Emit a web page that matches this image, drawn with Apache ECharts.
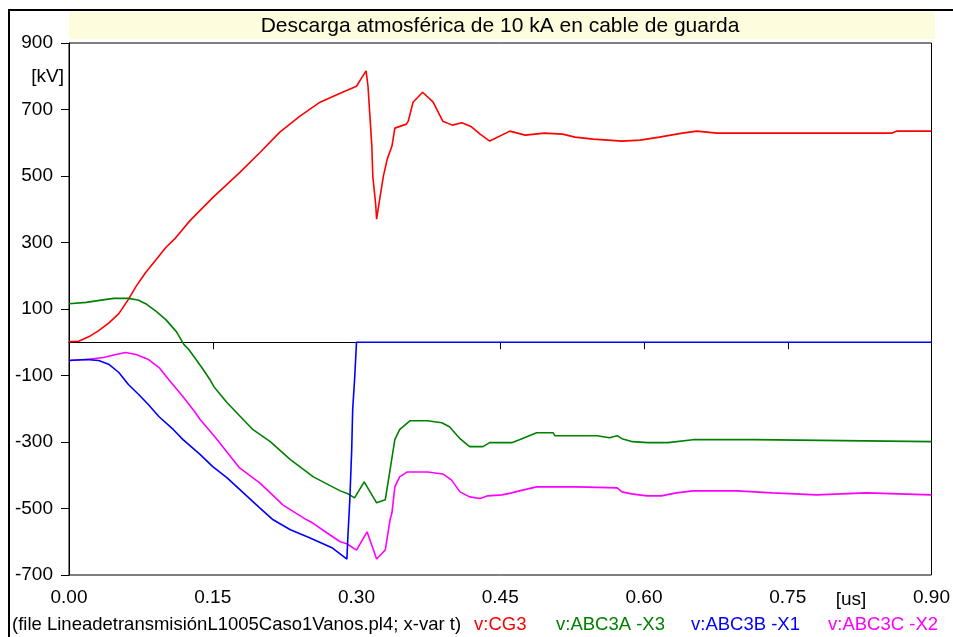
<!DOCTYPE html>
<html>
<head>
<meta charset="utf-8">
<script src="https://cdn.jsdelivr.net/npm/echarts@6/dist/echarts.min.js"></script>
<style>
  html, body { margin: 0; padding: 0; background: #fff; }
  #chart { width: 953px; height: 637px; }
</style>
</head>
<body>
<div id="chart"></div>
<script>
// Time axis ticks [us] and voltage axis ticks [kV]
const xTicks = [0.00, 0.15, 0.30, 0.45, 0.60, 0.75, 0.90];
const yTicks = [-700, -500, -300, -100, 100, 300, 500, 700, 900];

// v:CG3 — ground wire voltage, [t us, kV]
const cg3 = [
  [0,2],[0.010,3],[0.021,17],[0.031,35],[0.042,59],[0.052,86],[0.062,129],[0.070,168],
  [0.080,210],[0.091,249],[0.101,285],[0.110,310],[0.126,365],[0.150,435],[0.178,510],
  [0.199,570],[0.220,632],[0.241,680],[0.262,722],[0.283,749],[0.300,770],[0.306,798],
  [0.310,816],[0.312,770],[0.314,680],[0.316,590],[0.317,499],[0.320,415],[0.321,370],
  [0.323,409],[0.328,499],[0.332,550],[0.337,590],[0.340,644],[0.352,656],[0.354,665],
  [0.359,722],[0.364,737],[0.369,752],[0.380,722],[0.390,665],[0.400,653],[0.410,660],
  [0.420,648],[0.429,626],[0.439,605],[0.460,635],[0.476,623],[0.496,629],[0.515,626],
  [0.528,617],[0.547,611],[0.577,605],[0.596,608],[0.616,617],[0.640,629],[0.655,635],
  [0.676,629],[0.859,629],[0.864,635],[0.900,635]
];

// v:ABC3A -X3
const abc3a = [
  [0,116],[0.018,120],[0.039,129],[0.047,132],[0.062,132],[0.072,127],[0.080,116],
  [0.091,93],[0.101,68],[0.112,32],[0.120,-7],[0.125,-22],[0.140,-82],[0.147,-112],
  [0.151,-133],[0.165,-182],[0.192,-263],[0.210,-299],[0.231,-353],[0.255,-405],
  [0.275,-435],[0.283,-447],[0.291,-456],[0.293,-459],[0.298,-468],[0.308,-420],
  [0.321,-483],[0.330,-474],[0.335,-384],[0.340,-293],[0.345,-263],[0.356,-236],
  [0.374,-236],[0.389,-242],[0.397,-254],[0.408,-290],[0.418,-314],[0.432,-314],
  [0.439,-302],[0.462,-302],[0.470,-293],[0.488,-272],[0.505,-272],[0.507,-281],
  [0.551,-281],[0.564,-287],[0.572,-281],[0.577,-290],[0.588,-299],[0.604,-302],
  [0.625,-302],[0.651,-293],[0.715,-293],[0.717,-299],[0.900,-299]
];

// v:ABC3B -X1
const abc3b = [
  [0,-55],[0.018,-52],[0.031,-55],[0.042,-67],[0.052,-91],[0.062,-127],[0.073,-158],
  [0.083,-188],[0.094,-224],[0.109,-263],[0.119,-293],[0.137,-338],[0.150,-374],
  [0.165,-408],[0.182,-453],[0.199,-498],[0.213,-534],[0.231,-564],[0.251,-588],
  [0.275,-619],[0.290,-652],[0.291,-585],[0.293,-475],[0.295,-323],[0.296,-203],
  [0.298,-112],[0.300,0],[0.900,0]
];

// v:ABC3C -X2
const abc3c = [
  [0,-55],[0.018,-52],[0.036,-46],[0.049,-37],[0.059,-31],[0.070,-37],[0.083,-52],
  [0.094,-76],[0.104,-112],[0.119,-164],[0.132,-212],[0.137,-233],[0.146,-263],
  [0.153,-287],[0.178,-378],[0.199,-423],[0.220,-480],[0.223,-489],[0.248,-534],
  [0.254,-543],[0.269,-573],[0.283,-600],[0.290,-606],[0.300,-625],[0.311,-570],
  [0.321,-652],[0.330,-625],[0.335,-534],[0.337,-513],[0.340,-435],[0.342,-423],
  [0.345,-405],[0.353,-390],[0.374,-390],[0.390,-396],[0.399,-414],[0.408,-450],
  [0.418,-465],[0.429,-470],[0.437,-462],[0.452,-459],[0.462,-453],[0.470,-447],
  [0.479,-441],[0.488,-435],[0.530,-435],[0.531,-438],[0.572,-438],[0.577,-450],
  [0.587,-456],[0.603,-462],[0.618,-462],[0.634,-453],[0.651,-447],[0.697,-447],
  [0.698,-453],[0.734,-453],[0.736,-459],[0.780,-459],[0.781,-453],[0.832,-453],
  [0.833,-459],[0.900,-459]
];

const seriesNames = ['v:CG3', 'v:ABC3A -X3', 'v:ABC3B -X1', 'v:ABC3C -X2'];
const seriesData = [cg3, abc3a, abc3b, abc3c];
const seriesColors = ['#ff0000', '#008000', '#0000ff', '#ff00ff'];

const titleText = 'Descarga atmosférica de 10 kA en cable de guarda';
const fileText = '(file LineadetransmisiónL1005Caso1Vanos.pl4; x-var t)';

const FONT = '"Liberation Sans", Arial, sans-serif';
const chart = echarts.init(document.getElementById('chart'), null, { renderer: 'canvas' });

const legendX = [474, 556, 691, 828];

chart.setOption({
  animation: false,
  backgroundColor: '#ffffff',
  grid: {
    left: 69, right: 21, top: 43, bottom: 62,
    show: true, borderColor: '#000', borderWidth: 1, backgroundColor: 'transparent'
  },
  xAxis: {
    type: 'value',
    min: xTicks[0], max: xTicks[xTicks.length - 1], interval: 0.15,
    axisLine: { show: true, lineStyle: { color: '#000', width: 1 } },
    axisTick: { show: true, inside: false, length: 7, lineStyle: { color: '#000' } },
    splitLine: { show: false },
    axisLabel: {
      color: '#000', fontFamily: FONT, fontSize: 19, margin: 13,
      formatter: v => v.toFixed(2)
    }
  },
  yAxis: {
    type: 'value',
    min: yTicks[0], max: yTicks[yTicks.length - 1], interval: 200,
    axisLine: { show: true, lineStyle: { color: '#000', width: 1 } },
    axisTick: { show: true, inside: false, length: 8, lineStyle: { color: '#000' } },
    splitLine: { show: false },
    axisLabel: { color: '#000', fontFamily: FONT, fontSize: 19, margin: 16 }
  },
  series: seriesData.map((d, i) => ({
    name: seriesNames[i],
    type: 'line',
    data: d,
    showSymbol: false,
    symbol: 'none',
    smooth: false,
    lineStyle: { color: seriesColors[i], width: 1.6 },
    z: 3 + (i === 2 ? 1 : 0)
  })),
  graphic: [
    // outer frame
    { type: 'polyline', shape: { points: [[9, 637], [9, 10], [953, 10]] },
      style: { stroke: '#000', lineWidth: 2, fill: null }, z: 10 },
    // title band
    { type: 'rect', shape: { x: 69, y: 12, width: 866, height: 27 },
      style: { fill: '#fdfcdc' }, z: 1 },
    { type: 'text', x: 500, y: 26,
      style: { text: titleText, font: '21px ' + FONT, fill: '#000',
               textAlign: 'center', textVerticalAlign: 'middle' }, z: 11 },
    // unit labels
    { type: 'text', x: 64, y: 77,
      style: { text: '[kV]', font: '19px ' + FONT, fill: '#000',
               textAlign: 'right', textVerticalAlign: 'middle' }, z: 11 },
    { type: 'text', x: 851, y: 600,
      style: { text: '[us]', font: '19px ' + FONT, fill: '#000',
               textAlign: 'center', textVerticalAlign: 'middle' }, z: 11 },
    // footer
    { type: 'text', x: 12, y: 625,
      style: { text: fileText, font: '18.5px ' + FONT, fill: '#000',
               textAlign: 'left', textVerticalAlign: 'middle' }, z: 11 }
  ].concat(seriesNames.map((n, i) => ({
    type: 'text', x: legendX[i], y: 625,
    style: { text: n, font: '18.5px ' + FONT, fill: seriesColors[i],
             textAlign: 'left', textVerticalAlign: 'middle' }, z: 11
  })))
});
</script>
</body>
</html>
